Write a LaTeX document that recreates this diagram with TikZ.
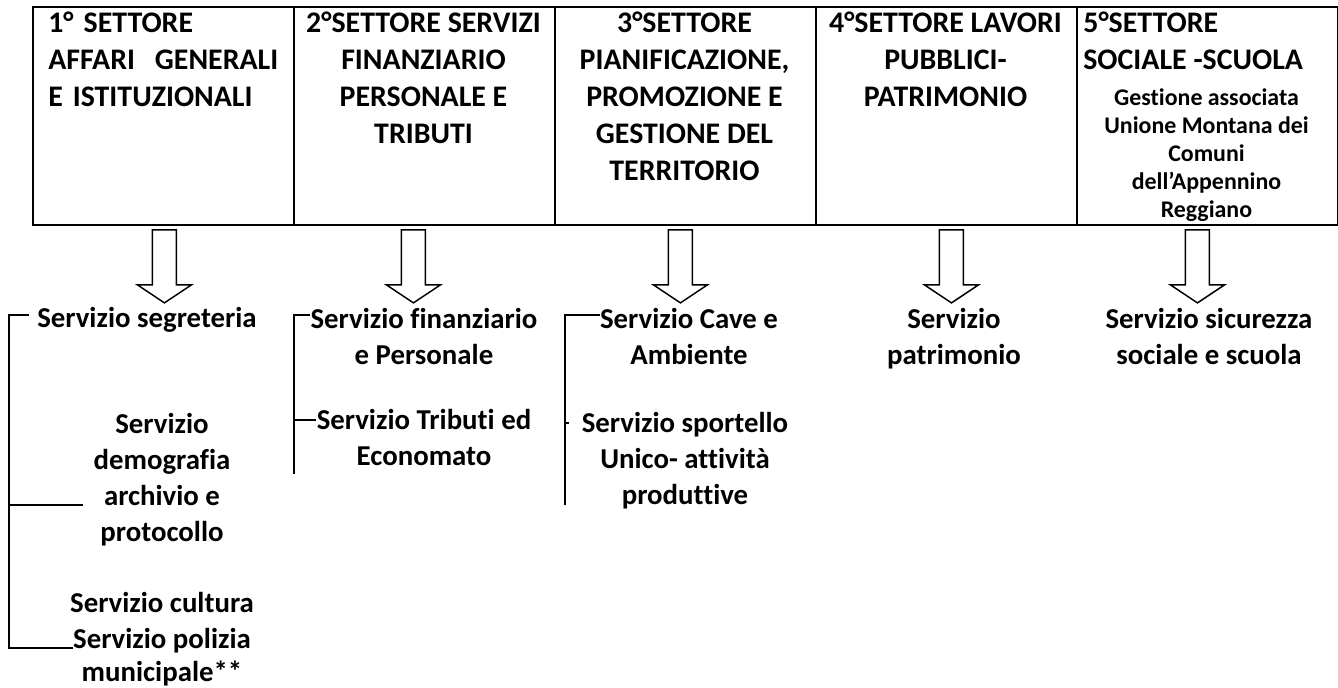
\documentclass[tikz,border=0pt]{standalone}
\usepackage{fontspec}
\setmainfont{Carlito}[Ligatures={NoCommon}]
\begin{document}
\begin{tikzpicture}[x=0.02cm, y=-0.02cm,
    sector/.style={draw, line width=1.1pt, minimum width=5.22cm, minimum height=4.36cm, inner sep=0pt, anchor=north west},
    heading/.style={inner sep=0pt, anchor=north, align=center, font=\bfseries\fontsize{17}{21}\selectfont},
    note/.style={inner sep=0pt, anchor=north, align=center, font=\bfseries\fontsize{13.6}{16}\selectfont},
    service/.style={inner sep=0pt, anchor=north, align=center, font=\bfseries\fontsize{16.4}{20.4}\selectfont},
    branch/.style={line width=0.8pt},
    hollow/.style={draw, line width=0.85pt, fill=white}]
            \useasboundingbox (0,0) rectangle (1338,688);
            % settori
            \node[sector] (s1) at (32,6) {};
            \node[sector] (s2) at (293,6) {};
            \node[sector] (s3) at (554,6) {};
            \node[sector] (s4) at (815,6) {};
            \node[sector] (s5) at (1076,6) {};
            \node[heading, anchor=north west, align=left, text width=4.6cm] (t1) at (48,12) {1° SETTORE\hfill\\AFFARI\hfill GENERALI\\E ISTITUZIONALI\hfill};
            \node[heading] (t2) at (423.5,12) {2°SETTORE SERVIZI\\FINANZIARIO\\PERSONALE E\\TRIBUTI};
            \node[heading] (t3) at (684.5,12) {3°SETTORE\\PIANIFICAZIONE,\\PROMOZIONE E\\GESTIONE DEL\\TERRITORIO};
            \node[heading] (t4) at (945.5,12) {4°SETTORE LAVORI\\PUBBLICI-\\PATRIMONIO};
            \node[heading, anchor=north west, align=left] (t5) at (1083,12) {5°SETTORE\\SOCIALE -SCUOLA};
            \node[note] (t5b) at (1206.5,88) {Gestione associata\\Unione Montana dei\\Comuni\\dell’Appennino\\Reggiano};
            % frecce
            \foreach \s/\d in {s1/1,s2/-11,s3/-5,s4/5,s5/-10}
            \draw[hollow] ([xshift=\d*0.02cm, yshift=-0.08cm]\s.south) ++(-12,0) -- ++(0,55) -- ++(-15,0) -- ++(27,18) -- ++(27,-18) -- ++(-15,0) -- ++(0,-55) -- cycle;
            % servizi
            \node[service] (segreteria) at (147,307) {Servizio segreteria};
            \node[service] (demografia) at (162,413) {Servizio\\demografia\\archivio e\\protocollo};
            \node[service] (cultura) at (162,592) {Servizio cultura};
            \node[service, font=\bfseries\fontsize{16.4}{18.6}\selectfont] (polizia) at (162,628) {Servizio polizia\\municipale**};
            \node[service] (finanziario) at (424,308) {Servizio finanziario\\e Personale};
            \node[service] (tributi) at (424,409) {Servizio Tributi ed\\Economato};
            \node[service] (cave) at (689,308) {Servizio Cave e\\Ambiente};
            \node[service] (sportello) at (685,412) {Servizio sportello\\Unico- attività\\produttive};
            \node[service] (patrimonio) at (954,308) {Servizio\\patrimonio};
            \node[service] (sicurezza) at (1209,308) {Servizio sicurezza\\sociale e scuola};
            % rami
            \coordinate (v1a) at (9,315);
            \coordinate (v1b) at (9,505);
            \coordinate (v1c) at (9,648);
            \draw[branch, shorten <=0.16cm] (segreteria.west |- v1a) -- (v1a) -- (v1c) -- (polizia.west |- v1c);
            \draw[branch, shorten >=0.2cm] (v1b) -- (demografia.west |- v1b);
            \coordinate (v2a) at (294,315);
            \coordinate (v2b) at (294,420);
            \coordinate (v2c) at (294,474);
            \draw[branch] (finanziario.west |- v2a) -- (v2a) -- (v2c);
            \draw[branch] (v2b) -- (tributi.west |- v2b);
            \coordinate (v3a) at (565,315);
            \coordinate (v3b) at (565,423);
            \coordinate (v3c) at (565,505);
            \draw[branch] (cave.west |- v3a) -- (v3a) -- (v3c);
            \draw[branch, shorten >=0.24cm] (v3b) -- (sportello.west |- v3b);
        \end{tikzpicture}
\end{document}
